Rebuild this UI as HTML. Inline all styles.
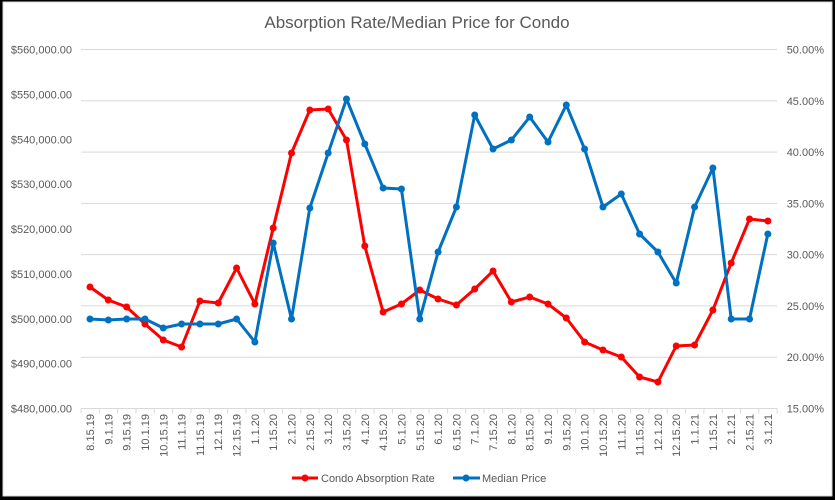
<!DOCTYPE html>
<html><head><meta charset="utf-8"><style>
html,body{margin:0;padding:0;background:#000;}
svg{display:block;font-family:"Liberation Sans",sans-serif;}
</style></head><body>
<svg width="835" height="500" viewBox="0 0 835 500" xmlns="http://www.w3.org/2000/svg">
<rect x="0" y="0" width="835" height="500" fill="#000"/>
<rect x="3" y="2" width="829" height="494" fill="#fff" stroke="#d9d9d9"/>
<text x="417" y="28" text-anchor="middle" font-size="17" fill="#595959">Absorption Rate/Median Price for Condo</text>
<g id="grid" stroke="#d9d9d9" stroke-width="1"></g>
<g id="lab" font-size="11" fill="#595959"></g>
<g id="series"></g>
<g font-size="11" fill="#595959">
<line x1="292" y1="478" x2="318" y2="478" stroke="#ff0000" stroke-width="3"/><circle cx="305" cy="478" r="3.5" fill="#ff0000"/>
<text x="321" y="482">Condo Absorption Rate</text>
<line x1="453" y1="478" x2="480" y2="478" stroke="#0070c0" stroke-width="3"/><circle cx="466" cy="478" r="3.5" fill="#0070c0"/>
<text x="482" y="482">Median Price</text>
</g>
</svg>
<script>
var NS="http://www.w3.org/2000/svg";
function el(t,a,p,txt){var e=document.createElementNS(NS,t);for(var k in a)e.setAttribute(k,a[k]);if(txt!=null)e.textContent=txt;document.getElementById(p).appendChild(e);return e;}
var gTop=49.5,gBot=408.5,x0=81,x1=777,dx=18.32;
var lStep=(gBot-gTop)/8,rStep=(gBot-gTop)/7;
for(var i=0;i<=8;i++){var y=gTop+i*lStep;
 var v=560-i*10;el("text",{x:72,y:y+4,"text-anchor":"end"},"lab","$"+v+",000.00");}
for(var i=0;i<=7;i++){var y=gTop+i*rStep;
 if(i<7) el("line",{x1:x0,y1:y,x2:x1,y2:y},"grid");
 el("text",{x:824,y:y+4,"text-anchor":"end"},"lab",(50-i*5).toFixed(2)+"%");}
el("line",{x1:x0,y1:gBot,x2:x1,y2:gBot,stroke:"#d9d9d9"},"grid");
for(var i=0;i<=38;i++){el("line",{x1:x0+i*dx,y1:gBot,x2:x0+i*dx,y2:gBot+5},"grid");}
var cats="8.15.19,9.1.19,9.15.19,10.1.19,10.15.19,11.1.19,11.15.19,12.1.19,12.15.19,1.1.20,1.15.20,2.1.20,2.15.20,3.1.20,3.15.20,4.1.20,4.15.20,5.1.20,5.15.20,6.1.20,6.15.20,7.1.20,7.15.20,8.1.20,8.15.20,9.1.20,9.15.20,10.1.20,10.15.20,11.1.20,11.15.20,12.1.20,12.15.20,1.1.21,1.15.21,2.1.21,2.15.21,3.1.21".split(",");
cats.forEach(function(c,i){var x=90+i*dx+4;el("text",{x:0,y:0,transform:"translate("+x+",414) rotate(-90)","text-anchor":"end"},"lab",c);});
var blue=[319,320,319,319,328,324,324,324,319,342,243,319,208,153,99,144,188,189,319,252,207,115,149,140,117,142,105,149,207,194,234,252,283,207,168,319,319,234];
var red=[287,300,307,324,340,347,301,303,268,304,228,153,110,109,140,246,312,304,290,299,305,289,271,302,297,304,318,342,350,357,377,382,346,345,310,263,219,221];
function draw(d,col){var p=d.map(function(y,i){return (90+i*dx).toFixed(1)+","+y;}).join(" ");
 el("polyline",{points:p,fill:"none",stroke:col,"stroke-width":3,"stroke-linejoin":"round"},"series");
 d.forEach(function(y,i){el("circle",{cx:90+i*dx,cy:y,r:3.5,fill:col},"series");});}
draw(red,"#ff0000");draw(blue,"#0070c0");
</script>
</body></html>
